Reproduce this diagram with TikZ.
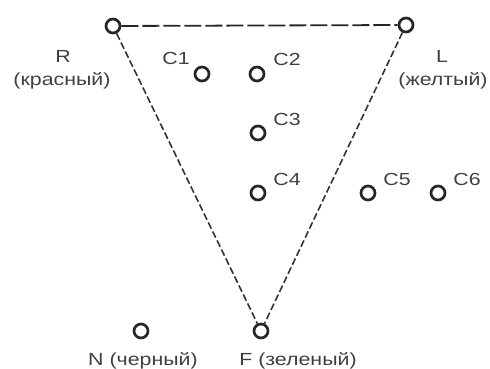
\documentclass[tikz,border=0pt]{standalone}
\usepackage{fontspec}
\setmainfont{Liberation Sans}[FakeStretch=1.22]
\begin{document}
\begin{tikzpicture}[x=1pt,y=-1pt,
  pt/.style={circle,draw=black!85,line width=2.7pt,minimum size=14pt,inner sep=0pt,fill=white},
  lbl/.style={anchor=base,inner sep=0pt,text=black!75,font=\fontsize{17.5}{20}\selectfont},
  topline/.style={draw=black!85,line width=1.8pt,dash pattern=on 17pt off 4pt},
  sideline/.style={draw=black!80,line width=1.6pt,dash pattern=on 7pt off 3pt}]
\useasboundingbox (0,0) rectangle (490,369);
% points
\node[pt] (R) at (113,26) {};
\node[pt] (L) at (406,25) {};
\node[pt] (F) at (261,331) {};
\node[pt] (N) at (141,331) {};
\node[pt] (C1) at (202,74) {};
\node[pt] (C2) at (257,74) {};
\node[pt] (C3) at (258,133) {};
\node[pt] (C4) at (258,193) {};
\node[pt] (C5) at (368,193) {};
\node[pt] (C6) at (438,193) {};
% triangle
\draw[topline] (R) -- (L);
\draw[sideline] (R) -- (F);
\draw[sideline] (L) -- (F);
% labels
\node[lbl] (tR) at (63,63) {R};
\node[lbl] (tRc) at (62,85) {(красный)};
\node[lbl] (tL) at (442,63) {L};
\node[lbl] (tLc) at (443,85) {(желтый)};
\node[lbl] (t1) at (176,65) {C1};
\node[lbl] (t2) at (287,66) {C2};
\node[lbl] (t3) at (287,125) {C3};
\node[lbl] (t4) at (287,185) {C4};
\node[lbl] (t5) at (397,185) {C5};
\node[lbl] (t6) at (467,185) {C6};
\node[lbl] (tN) at (143,365) {N (черный)};
\node[lbl] (tF) at (298,365) {F (зеленый)};
\end{tikzpicture}
\end{document}
